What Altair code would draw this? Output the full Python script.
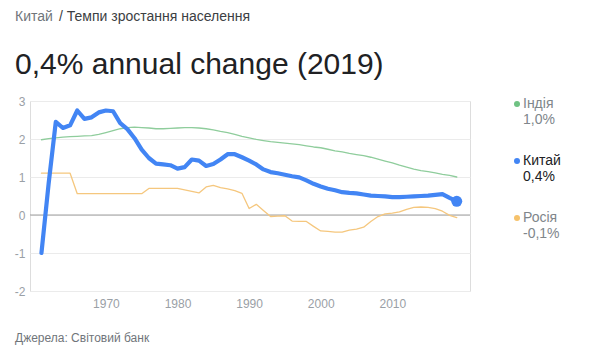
import altair as alt
import pandas as pd

years = list(range(1961, 2020))

china = [-1.00, 0.82, 2.45, 2.29, 2.36, 2.75, 2.53, 2.57, 2.70, 2.75,
         2.73, 2.42, 2.26, 2.02, 1.72, 1.50, 1.35, 1.33, 1.31, 1.22,
         1.26, 1.46, 1.43, 1.29, 1.34, 1.46, 1.60, 1.60, 1.52, 1.43,
         1.33, 1.20, 1.13, 1.10, 1.06, 1.02, 0.99, 0.91, 0.82, 0.75,
         0.69, 0.65, 0.60, 0.58, 0.57, 0.54, 0.51, 0.50, 0.49, 0.47,
         0.47, 0.48, 0.49, 0.50, 0.51, 0.53, 0.55, 0.45, 0.36]

india = [1.98, 2.01, 2.03, 2.05, 2.06, 2.07, 2.08, 2.09, 2.12, 2.17,
         2.22, 2.27, 2.30, 2.31, 2.30, 2.29, 2.27, 2.27, 2.28, 2.29,
         2.30, 2.30, 2.29, 2.27, 2.24, 2.20, 2.17, 2.12, 2.07, 2.03,
         1.99, 1.96, 1.93, 1.91, 1.89, 1.87, 1.85, 1.82, 1.79, 1.77,
         1.73, 1.69, 1.66, 1.62, 1.59, 1.56, 1.52, 1.47, 1.42, 1.37,
         1.31, 1.26, 1.21, 1.17, 1.14, 1.11, 1.07, 1.04, 1.00]

russia = [1.10, 1.10, 1.10, 1.10, 1.10, 0.56, 0.56, 0.56, 0.56, 0.56,
          0.56, 0.56, 0.56, 0.56, 0.56, 0.70, 0.70, 0.70, 0.70, 0.70,
          0.66, 0.62, 0.58, 0.74, 0.78, 0.72, 0.69, 0.64, 0.57, 0.17,
          0.28, 0.12, -0.04, -0.03, -0.02, -0.16, -0.17, -0.17, -0.30, -0.42,
          -0.43, -0.45, -0.45, -0.40, -0.37, -0.32, -0.17, -0.04, 0.03, 0.05,
          0.08, 0.15, 0.20, 0.21, 0.20, 0.17, 0.10, -0.01, -0.07]

names = ["Індія", "Китай", "Росія"]
x_ticks = [1970, 1980, 1990, 2000, 2010]
y_ticks = [-2, -1, 0, 1, 2, 3]

line_colors = {"Індія": "#8fcd9c", "Китай": "#4285f4", "Росія": "#f5c77e"}
dot_colors = {"Індія": "#6fc283", "Китай": "#4285f4", "Росія": "#f6c26b"}
series = {"Індія": india, "Китай": china, "Росія": russia}

FONT = "Liberation Sans"
W, H = 440, 190

xscale = alt.Scale(domain=[1959.4, 2020.85], nice=False, zero=False)
yscale = alt.Scale(domain=[-2, 3], nice=False)

xaxis = alt.Axis(values=x_ticks, format="d", title=None, grid=False, ticks=False,
                 domain=False, labelPadding=7, labelColor="#9aa0a6", labelFontSize=12,
                 labelFont=FONT)
yaxis = alt.Axis(values=y_ticks, title=None, grid=True, gridColor="#ebebeb",
                 ticks=False, domain=False, labelPadding=5, labelColor="#9aa0a6",
                 labelFontSize=12, labelFont=FONT, labelExpr="'' + datum.value")


def X():
    return alt.X("year:Q", scale=xscale, axis=xaxis)


def Y():
    return alt.Y("value:Q", scale=yscale, axis=yaxis)


def line_layer(name, width):
    df = pd.DataFrame({"year": years, "value": series[name]})
    return alt.Chart(df).mark_line(color=line_colors[name], strokeWidth=width,
                                   strokeJoin="round", strokeCap="round").encode(x=X(), y=Y())


def text(s, x, y, size, color, baseline="alphabetic"):
    return alt.Chart(pd.DataFrame({"t": [s]})).mark_text(
        align="left", baseline=baseline, fontSize=size, color=color, font=FONT
    ).encode(x=alt.value(x), y=alt.value(y), text="t:N")


def dot(x, y, color):
    return alt.Chart(pd.DataFrame({"t": [0]})).mark_circle(
        size=36, color=color, opacity=1
    ).encode(x=alt.value(x), y=alt.value(y))


zero = alt.Chart(pd.DataFrame({"value": [0]})).mark_rule(color="#9e9e9e", strokeWidth=1).encode(
    y=Y()
)

last = pd.DataFrame({"year": [years[-1]], "value": [china[-1]]})
endpoint = alt.Chart(last).mark_circle(size=120, color="#4285f4", opacity=1).encode(x=X(), y=Y())


def fmt(v):
    return f"{v:.1f}%".replace(".", ",")


layers = [
    line_layer("Індія", 1.3),
    zero,
    line_layer("Росія", 1.3),
    line_layer("Китай", 4.2),
    endpoint,
    text("Китай", -15, -80, 14, "#70757a"),
    text("/ Темпи зростання населення", 29, -80, 14, "#3c4043"),
    text("0,4% annual change (2019)", -15, -27, 30, "#202124"),
    text("Джерела: Світовий банк", -15, 241, 12, "#70757a"),
]

legend_y = {"Індія": 3, "Китай": 60, "Росія": 117}
for n in names:
    yy = legend_y[n]
    col = "#202124" if n == "Китай" else "#80868b"
    layers.append(dot(487, yy, dot_colors[n]))
    layers.append(text(n, 493, yy, 14, col, baseline="middle"))
    layers.append(text(fmt(series[n][-1]), 493, yy + 16, 14, col, baseline="middle"))

chart = alt.layer(*layers).properties(
    width=W, height=H,
    autosize=alt.AutoSizeParams(type="none"),
    padding={"left": 22, "top": 93, "right": 113, "bottom": 60},
).configure_view(strokeWidth=0, stroke="transparent").configure(font=FONT)

chart.save("out.html", embed_options={"renderer": "svg", "actions": False})
